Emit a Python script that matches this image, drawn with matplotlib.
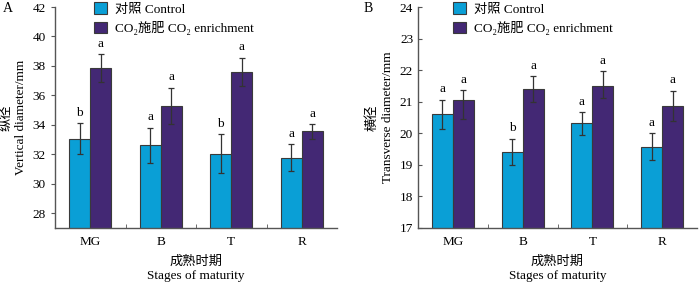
import matplotlib.pyplot as plt
import numpy as np
from matplotlib.ticker import FixedLocator, MultipleLocator

plt.rcParams['font.family'] = ['Liberation Serif', 'Noto Sans CJK SC', 'DejaVu Sans']

stages = ['MG', 'B', 'T', 'R']

# A: vertical diameter (mm)
ctrl_a = [33.05, 32.6, 32.05, 31.77]
ctrl_a_err = [1.05, 1.2, 1.3, 0.92]
co2_a = [37.86, 35.3, 37.6, 33.55]
co2_a_err = [0.93, 1.22, 0.97, 0.5]
ctrl_a_sig = ['b', 'a', 'b', 'a']
co2_a_sig = ['a', 'a', 'a', 'a']

# B: transverse diameter (mm)
ctrl_b = [20.6, 19.41, 20.31, 19.57]
ctrl_b_err = [0.46, 0.42, 0.35, 0.43]
co2_b = [21.06, 21.4, 21.51, 20.87]
co2_b_err_lo = [0.62, 0.41, 0.38, 0.48]
co2_b_err_hi = [0.31, 0.41, 0.45, 0.48]
ctrl_b_sig = ['a', 'b', 'a', 'a']
co2_b_sig = ['a', 'a', 'a', 'a']

c_ctrl = '#0a9fd6'
c_co2 = '#432874'
edge = '#3a3a3a'
axcol = '#555555'
w = 0.3

fig = plt.figure(figsize=(7, 2.87), dpi=100)
axA = fig.add_axes([55/700, 1-228/287, 282/700, 221/287])
axB = fig.add_axes([418/700, 1-228/287, 279/700, 221/287])


def panel(ax, ctrl, ctrl_err, co2, co2_err, ctrl_sig, co2_sig, ylo, yhi, step, tickdir, ylab, gap, legx):
    x = np.arange(len(stages)) + 0.5
    ax.bar(x - w/2, ctrl, w, color=c_ctrl, edgecolor=edge, linewidth=0.8,
           label='对照 Control', zorder=2)
    ax.bar(x + w/2, co2, w, color=c_co2, edgecolor=edge, linewidth=0.8,
           label='CO₂施肥 CO₂ enrichment', zorder=2)
    ax.errorbar(x - w/2, ctrl, yerr=ctrl_err, fmt='none', ecolor='#333333',
                elinewidth=0.9, capsize=2.5, capthick=0.9, zorder=3)
    ax.errorbar(x + w/2, co2, yerr=co2_err, fmt='none', ecolor='#333333',
                elinewidth=0.9, capsize=2.5, capthick=0.9, zorder=3)
    ce = np.array(ctrl_err)
    oe = np.array(co2_err)
    if oe.ndim == 2:
        oe = oe[1]
    for i in range(len(stages)):
        ax.text(x[i] - w/2, ctrl[i] + ce[i] + gap, ctrl_sig[i], ha='center', va='bottom', fontsize=9.5)
        ax.text(x[i] + w/2, co2[i] + oe[i] + gap, co2_sig[i], ha='center', va='bottom', fontsize=9.5)
    ax.set_xlim(0, 4)
    ax.set_ylim(ylo, yhi)
    ax.yaxis.set_major_locator(MultipleLocator(step))
    ax.set_xticks(x)
    ax.set_xticklabels(stages, fontsize=9.5)
    ax.tick_params(axis='x', length=0, pad=6)
    ax.xaxis.set_minor_locator(FixedLocator([1, 2, 3]))
    ax.tick_params(axis='x', which='minor', direction='in', length=3, color=axcol)
    ax.tick_params(axis='y', direction=tickdir, length=3, color=axcol, labelsize=9.5)
    for s in ['top', 'right']:
        ax.spines[s].set_visible(False)
    for s in ['left', 'bottom']:
        ax.spines[s].set_color(axcol)
        ax.spines[s].set_linewidth(1.0)
    ax.set_xlabel('成熟时期\nStages of maturity', fontsize=9.5, labelpad=5, linespacing=1.3)
    ax.set_ylabel(ylab, fontsize=9.5, labelpad=4, linespacing=1.35)
    ax.legend(loc='upper left', bbox_to_anchor=(legx, 1.045), frameon=False, fontsize=9.5,
              handlelength=1.05, handleheight=1.0, handletextpad=0.55, labelspacing=0.4,
              borderaxespad=0)


panel(axA, ctrl_a, ctrl_a_err, co2_a, co2_a_err, ctrl_a_sig, co2_a_sig,
      27, 42, 2, 'out', '纵径\nVertical diameter/mm', 0.3, 0.118)
panel(axB, ctrl_b, ctrl_b_err, co2_b, [co2_b_err_lo, co2_b_err_hi], ctrl_b_sig, co2_b_sig,
      17, 24, 1, 'in', '横径\nTransverse diameter/mm', 0.14, 0.105)

fig.text(3/700, 1-12/287, 'A', fontsize=10)
fig.text(364/700, 1-12/287, 'B', fontsize=10)

fig.savefig('out.png', dpi=100)
